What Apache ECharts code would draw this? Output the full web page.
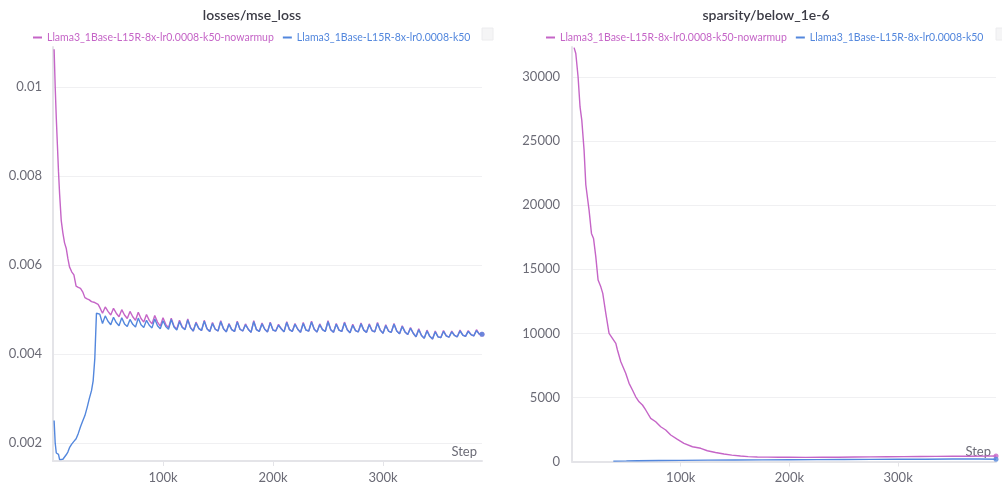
<!DOCTYPE html>
<html>
<head>
<meta charset="utf-8">
<script src="https://cdn.jsdelivr.net/npm/echarts@6/dist/echarts.min.js"></script>
<style>
html,body{margin:0;padding:0;background:#fff;}
#chart{width:1002px;height:487px;}
</style>
</head>
<body>
<div id="chart"></div>
<script>
// ---------- DATA ----------
const runNames = ['Llama3_1Base-L15R-8x-lr0.0008-k50-nowarmup', 'Llama3_1Base-L15R-8x-lr0.0008-k50'];
const panelTitles = ['losses/mse_loss', 'sparsity/below_1e-6'];
const xTickLabels = ['100k', '200k', '300k'];

// left panel: step (thousands)
const mseSteps = [1,2,3,4,5,6,7.5,9,10.5,12,13.5,15,17,19,21,23,25,27,29,31,33,35,36.5,38,39.5,41,42.5,
45,47.5,50,52.5,55,57.5,60,62.5,65,67.5,70,72.5,75,77.5,80,82.5,85,87.5,90,92.5,95,97.5,
100,102.5,105,107.5,110,112.5,115,117.5,120,122.5,125,127.5,130,132.5,135,137.5,140,142.5,145,147.5,
150,152.5,155,157.5,160,162.5,165,167.5,170,172.5,175,177.5,180,182.5,185,187.5,190,192.5,195,197.5,
200,202.5,205,207.5,210,212.5,215,217.5,220,222.5,225,227.5,230,232.5,235,237.5,240,242.5,245,247.5,
250,252.5,255,257.5,260,262.5,265,267.5,270,272.5,275,277.5,280,282.5,285,287.5,290,292.5,295,297.5,
300,302.5,305,307.5,310,312.5,315,317.5,320,322.5,325,327.5,330,332.5,335,337.5,340,342.5,345,347.5,
350,352.5,355,357.5,360,362.5,365,367.5,370,372.5,375,377.5,380,382.5,385,387.5,390];

const mseNowarmup = [0.01085,0.0100,0.0093,0.0087,0.0081,0.0076,0.0070,0.00672,0.00650,0.00638,0.00615,0.00596,0.00585,0.00578,0.00553,0.00550,0.00548,0.00540,0.00527,0.00524,0.00522,0.00518,0.00514,0.00516,0.00513,0.00512,0.00505,
0.00492,0.00506,0.00496, 0.00488,0.00503,0.00492, 0.00484,0.00500,0.00488, 0.00480,0.00496,0.00484,
0.00476,0.00494,0.00480, 0.00472,0.00489,0.00476, 0.00468,0.00487,0.00472, 0.00463,0.00482,0.00467,
0.00459,0.00481,0.00463, 0.00456,0.00476,0.00461, 0.00456,0.00479,0.00460, 0.00452,0.00472,0.00458,
0.00453,0.00476,0.00457, 0.00451,0.00471,0.00456, 0.00452,0.00475,0.00457, 0.00450,0.00469,0.00455,
0.00451,0.00474,0.00456, 0.00452,0.00468,0.00456, 0.00449,0.00475,0.00455, 0.00451,0.00470,0.00456,
0.00450,0.00472,0.00454, 0.00452,0.00467,0.00457, 0.00450,0.00473,0.00455, 0.00451,0.00469,0.00456,
0.00449,0.00471,0.00454, 0.00452,0.00474,0.00456, 0.00450,0.00468,0.00455, 0.00451,0.00475,0.00455,
0.00449,0.00469,0.00454, 0.00451,0.00472,0.00455, 0.00448,0.00467,0.00453, 0.00450,0.00470,0.00454,
0.00449,0.00468,0.00453, 0.00450,0.00471,0.00454, 0.00447,0.00466,0.00452, 0.00449,0.00469,0.00452,
0.00446,0.00464,0.00450, 0.00444,0.00460,0.00447, 0.00439,0.00457,0.00442, 0.00436,0.00454,0.00440,
0.00434,0.00452,0.00439, 0.00437,0.00453,0.00441, 0.00438,0.00452,0.00442, 0.00439,0.00454,0.00443,
0.00440,0.00453,0.00444, 0.00441,0.00455,0.00445, 0.00445];

const mseWarmup = [0.00251,0.0020,0.00178,0.00176,0.00175,0.00163,0.00161,0.00164,0.00166,0.00174,0.00180,0.00190,0.00198,0.00204,0.00210,0.00222,0.00237,0.00250,0.00262,0.00280,0.00300,0.00318,0.00340,0.00390,0.00492,0.00495,0.00490,
0.00469,0.00486,0.00474, 0.00466,0.00483,0.00471, 0.00464,0.00482,0.00468, 0.00462,0.00478,0.00467,
0.00461,0.00481,0.00466, 0.00460,0.00476,0.00465, 0.00459,0.00479,0.00464, 0.00457,0.00475,0.00462,
0.00456,0.00478,0.00461, 0.00454,0.00473,0.00460, 0.00455,0.00477,0.00459, 0.00452,0.00470,0.00458,
0.00453,0.00474,0.00457, 0.00451,0.00469,0.00456, 0.00452,0.00473,0.00457, 0.00450,0.00467,0.00455,
0.00451,0.00472,0.00456, 0.00452,0.00466,0.00456, 0.00449,0.00473,0.00455, 0.00451,0.00468,0.00456,
0.00450,0.00470,0.00454, 0.00452,0.00465,0.00457, 0.00450,0.00471,0.00455, 0.00451,0.00467,0.00456,
0.00449,0.00469,0.00454, 0.00452,0.00472,0.00456, 0.00450,0.00466,0.00455, 0.00451,0.00473,0.00455,
0.00449,0.00467,0.00454, 0.00451,0.00470,0.00455, 0.00448,0.00465,0.00453, 0.00450,0.00468,0.00454,
0.00449,0.00466,0.00453, 0.00450,0.00469,0.00454, 0.00447,0.00464,0.00452, 0.00449,0.00467,0.00452,
0.00446,0.00462,0.00450, 0.00444,0.00458,0.00447, 0.00439,0.00455,0.00442, 0.00436,0.00452,0.00440,
0.00434,0.00450,0.00439, 0.00437,0.00451,0.00441, 0.00438,0.00450,0.00442, 0.00439,0.00452,0.00443,
0.00440,0.00451,0.00444, 0.00441,0.00453,0.00445, 0.00445];

// right panel: step (thousands) and counts
const sparSteps = [1.9,3.5,5.6,7.4,9,11.1,12.7,14.2,15.7,17.9,19.8,21.9,24,26.5,28.3,31.1,34.1,37.2,40.3,41.8,44.9,49.4,52.5,55.6,58.6,61.7,64.8,67.8,72.4,77,81.6,86.2,90.8,97,103,110.8,118.4,124.5,132,139.8,147,155,162,170.5,180,190,200,215,230,245,260,275,290,305,320,335,350,365,380,390];
const sparNowarmup = [32300,31840,30010,27670,26640,24300,21600,21500,19620,17800,17410,15970,14160,13630,13120,11560,10000,9610,9220,8700,7790,6880,6100,5580,5050,4660,4410,4020,3370,3100,2710,2460,2070,1730,1420,1150,1030,840,700,590,500,430,380,350,340,330,330,320,340,330,350,360,370,380,390,400,410,410,420,430];
const sparWarmSteps = [38,50,60,80,100,125,150,175,200,225,250,275,300,325,350,375,390];
const sparWarmup = [30,45,60,75,90,105,120,130,140,150,160,165,175,180,190,195,170];

// ---------- CHART ----------
const COLORS = ['#C565C7', '#5387DD'];
const FONT = 'Lato, "Noto Sans", sans-serif';
const LABEL_COLOR = '#6b6b76';
const AXIS_COLOR = '#e4e4e8';
const GRID_COLOR = '#f0f0f2';

function pairs(steps, vals) { return steps.map((s, i) => [s * 1000, vals[i]]); }
function lastOf(steps, vals) { return [[steps[steps.length - 1] * 1000, vals[vals.length - 1]]]; }

const kFmt = v => { const s = (v / 1000) + 'k'; return xTickLabels.indexOf(s) >= 0 ? s : ''; };

function xAxis(gridIndex) {
  return {
    type: 'value', gridIndex, min: 0, max: 390000, interval: 100000,
    axisLine: { show: true, lineStyle: { color: AXIS_COLOR, width: 2 } },
    axisTick: { show: true, length: 5, lineStyle: { color: AXIS_COLOR } },
    axisLabel: { color: LABEL_COLOR, fontFamily: FONT, fontSize: 13, margin: 10, showMinLabel: false, showMaxLabel: false, formatter: kFmt },
    splitLine: { show: false }
  };
}

function legend(left) {
  return { left, top: 27, width: 520, icon: 'rect', itemWidth: 9, itemHeight: 2, itemGap: 9, selectedMode: false,
    data: runNames.map((n, i) => ({ name: n, textStyle: { color: COLORS[i] } })),
    textStyle: { fontFamily: FONT, fontSize: 10.5 } };
}

function titleText(text, cx) {
  return { type: 'text', x: cx, y: 15, style: { text, fill: '#3b3b45', font: '600 14px ' + FONT, textAlign: 'center', textVerticalAlign: 'middle' } };
}

const option = {
  animation: false,
  backgroundColor: '#fff',
  textStyle: { fontFamily: FONT },
  legend: [legend(28), legend(541)],
  grid: [
    { left: 53, top: 47, width: 429, height: 414 },
    { left: 572, top: 47, width: 424, height: 414.5 }
  ],
  xAxis: [xAxis(0), xAxis(1)],
  yAxis: [
    { type: 'value', gridIndex: 0, min: 0.0016, max: 0.0109,
      axisLine: { show: true, lineStyle: { color: AXIS_COLOR, width: 2 } },
      axisTick: { show: false },
      axisLabel: { color: LABEL_COLOR, fontFamily: FONT, fontSize: 13, margin: 11, showMinLabel: false, showMaxLabel: false },
      splitLine: { show: true, showMinLine: false, showMaxLine: false, lineStyle: { color: GRID_COLOR } } },
    { type: 'value', gridIndex: 1, min: 0, max: 32350, interval: 5000,
      axisLine: { show: true, lineStyle: { color: AXIS_COLOR, width: 2 } },
      axisTick: { show: false },
      axisLabel: { color: LABEL_COLOR, fontFamily: FONT, fontSize: 13, margin: 12, showMaxLabel: false, formatter: v => String(v) },
      splitLine: { show: true, showMinLine: false, showMaxLine: false, lineStyle: { color: GRID_COLOR } } }
  ],
  graphic: [
    titleText(panelTitles[0], 252),
    titleText(panelTitles[1], 766),
    { type: 'text', right: 1002 - 477, top: 445, style: { text: 'Step', fill: LABEL_COLOR, font: '13px ' + FONT } },
    { type: 'text', right: 1002 - 991, top: 445, style: { text: 'Step', fill: LABEL_COLOR, font: '13px ' + FONT } },
    { type: 'rect', shape: { x: 482, y: 28, width: 11, height: 12 }, style: { fill: '#f5f5f6', stroke: '#ececee', lineWidth: 1 } },
    { type: 'rect', shape: { x: 996, y: 28, width: 11, height: 12 }, style: { fill: '#f5f5f6', stroke: '#ececee', lineWidth: 1 } }
  ],
  series: [
    { name: runNames[0], type: 'line', xAxisIndex: 0, yAxisIndex: 0, data: pairs(mseSteps, mseNowarmup), showSymbol: false, color: COLORS[0], lineStyle: { width: 1.4 } },
    { name: runNames[1], type: 'line', xAxisIndex: 0, yAxisIndex: 0, data: pairs(mseSteps, mseWarmup), showSymbol: false, color: COLORS[1], lineStyle: { width: 1.4 } },
    { name: runNames[0], type: 'line', xAxisIndex: 1, yAxisIndex: 1, data: pairs(sparSteps, sparNowarmup), showSymbol: false, color: COLORS[0], lineStyle: { width: 1.4 } },
    { name: runNames[1], type: 'line', xAxisIndex: 1, yAxisIndex: 1, data: pairs(sparWarmSteps, sparWarmup), showSymbol: false, color: COLORS[1], lineStyle: { width: 1.4 } },
    { type: 'scatter', xAxisIndex: 0, yAxisIndex: 0, data: lastOf(mseSteps, mseNowarmup), symbolSize: 5, color: COLORS[0], z: 5 },
    { type: 'scatter', xAxisIndex: 0, yAxisIndex: 0, data: lastOf(mseSteps, mseWarmup), symbolSize: 5, color: COLORS[1], z: 5 },
    { type: 'scatter', xAxisIndex: 1, yAxisIndex: 1, data: lastOf(sparSteps, sparNowarmup), symbolSize: 5, color: COLORS[0], z: 5 },
    { type: 'scatter', xAxisIndex: 1, yAxisIndex: 1, data: lastOf(sparWarmSteps, sparWarmup), symbolSize: 5, color: COLORS[1], z: 5 }
  ]
};

const chart = echarts.init(document.getElementById('chart'), null, { renderer: 'canvas' });
chart.setOption(option);
</script>
</body>
</html>
